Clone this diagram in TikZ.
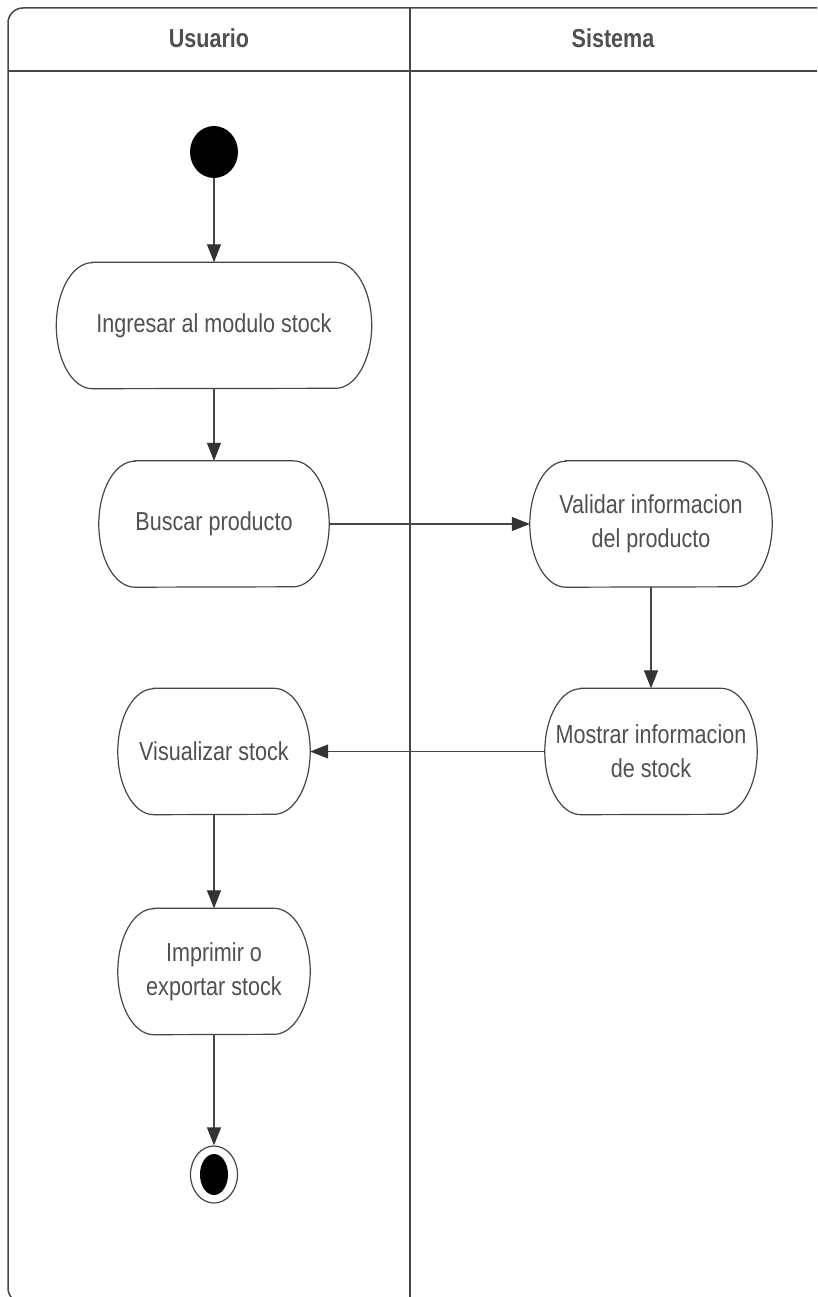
\documentclass[tikz,border=0pt]{standalone}
\usepackage{fontspec}
\setmainfont{Liberation Sans}[FakeStretch=0.83]
\usetikzlibrary{shapes.geometric,arrows.meta,calc}
\definecolor{inkline}{HTML}{464646}
\definecolor{inktext}{HTML}{505050}
\tikzset{
  frame/.style={draw=inkline,line width=1.5pt},
  laneTitle/.style={text=inktext,font=\fontsize{26}{30}\selectfont\bfseries},
  activity/.style={draw=none,minimum height=126pt,inner sep=0pt,align=center,
    text=inktext,font=\fontsize{26}{34}\selectfont},
  outline/.style={draw=inkline,line width=1.2pt},
  flow/.style={draw=inkline,line width=1.2pt,
    -{Triangle[length=18pt,width=14pt,fill=black!80,color=black!80]}},
  startnode/.style={ellipse,fill=black,minimum width=48pt,minimum height=52pt,inner sep=0pt},
  endnode/.style={ellipse,draw=inkline,line width=1.2pt,minimum width=47pt,minimum height=57pt,inner sep=0pt},
}
\begin{document}
\begin{tikzpicture}[x=1pt,y=1pt]
\useasboundingbox (0,0) rectangle (817,-1297);
\fill[white] (0,0) rectangle (817,-1297);
\begin{scope}
  \clip (0,0) rectangle (817,-1297);
  % swimlane frame
  \draw[frame,rounded corners=15pt] (830,-8) -- (8,-8) -- (8,-1303) -- (830,-1303);
  \draw[frame] (8,-71) -- (830,-71);
  \draw[frame] (410,-8) -- (410,-1310);
\end{scope}
\node[laneTitle] (laneU) at (209,-38) {Usuario};
\node[laneTitle] (laneS) at (613,-38) {Sistema};

% activities
\node[startnode] (start) at (214,-152) {};
\node[activity,minimum width=315pt] (ing) at (214,-325.5) {Ingresar al modulo stock};
\node[activity,minimum width=230pt] (bus) at (214,-524) {Buscar producto};
\node[activity,minimum width=242pt] (val) at (651,-524) {Validar informacion\\del producto};
\node[activity,minimum width=212pt] (mos) at (651,-751.5) {Mostrar informacion\\de stock};
\node[activity,minimum width=192pt] (vis) at (214,-751.5) {Visualizar stock};
\node[activity,minimum width=192pt] (imp) at (214,-971.5) {Imprimir o\\exportar stock};
\node[endnode] (end) at (214,-1174.5) {};
\fill[black] (end.center) ellipse [x radius=14pt,y radius=20.5pt];

% rounded outlines of the activity boxes
\foreach \n in {ing,bus,val,mos,vis,imp} {
  \draw[outline] ($(\n.north west)+(36,0)$) -- ($(\n.north east)+(-36,0)$)
    arc[start angle=90,end angle=-90,x radius=36pt,y radius=63pt]
    -- ($(\n.south west)+(36,0)$)
    arc[start angle=270,end angle=90,x radius=36pt,y radius=63pt] -- cycle;
}

% control flow
\draw[flow] (start) -- (ing);
\draw[flow] (ing) -- (bus);
\draw[flow] (bus) -- (val);
\draw[flow] (val) -- (mos);
\draw[flow] (mos) -- (vis);
\draw[flow] (vis) -- (imp);
\draw[flow] (imp) -- (end);
\end{tikzpicture}
\end{document}
